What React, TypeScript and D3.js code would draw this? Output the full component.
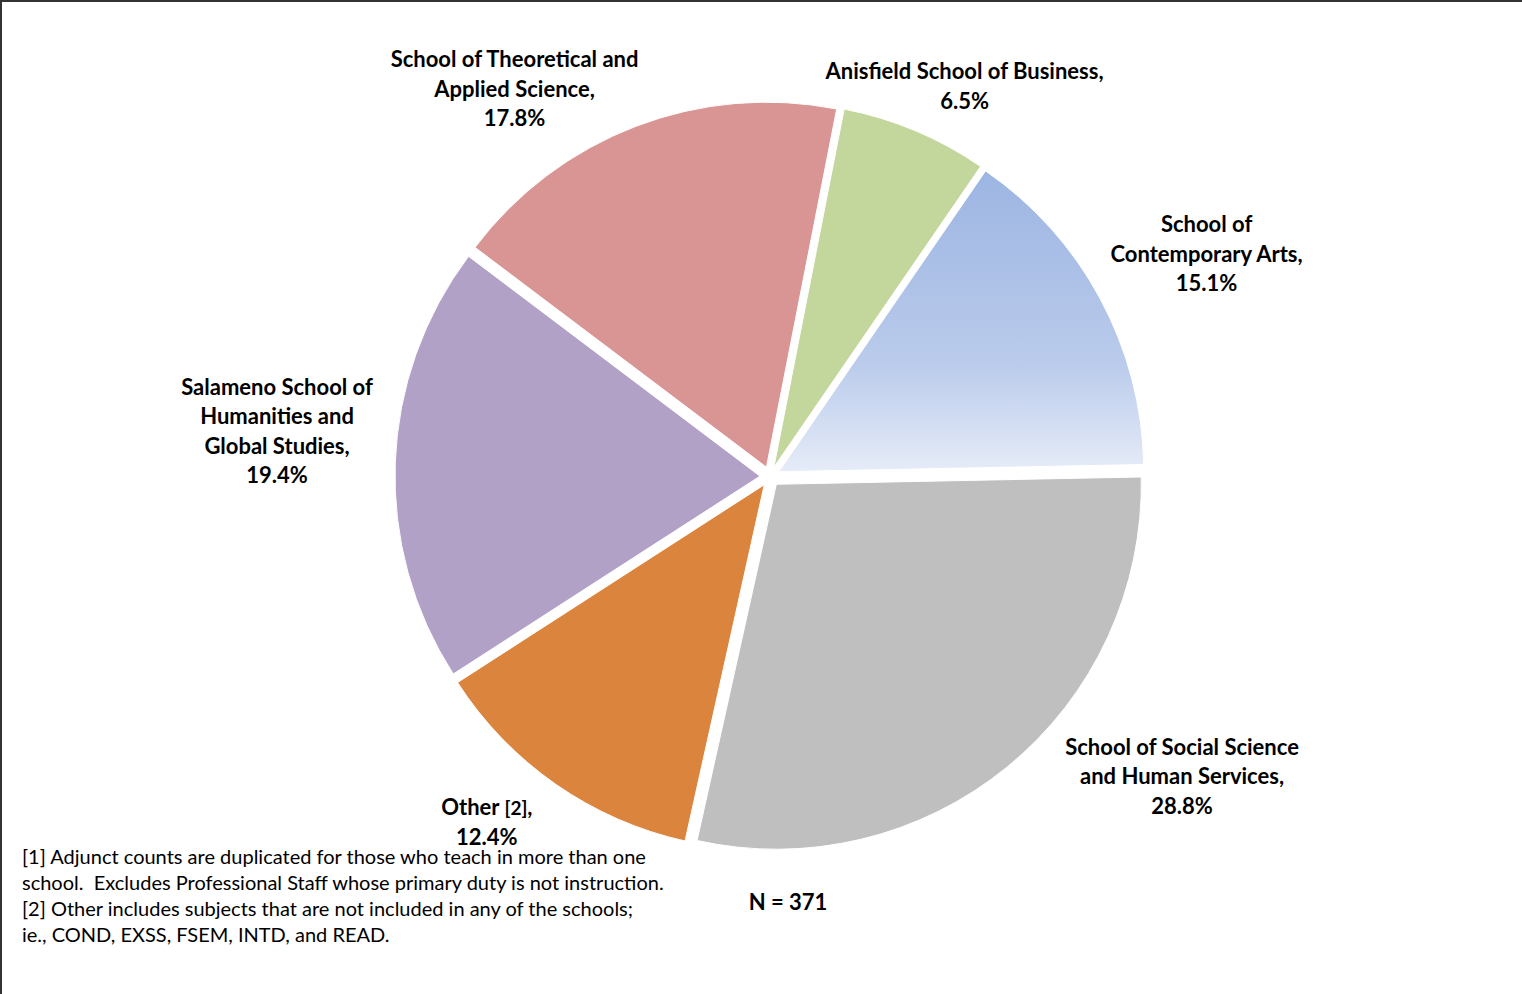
import React from 'react';
import * as d3 from 'd3';

const categories = [
  'Anisfield School of Business',
  'School of Contemporary Arts',
  'School of Social Science and Human Services',
  'Other [2]',
  'Salameno School of Humanities and Global Studies',
  'School of Theoretical and Applied Science',
];
const shares = [6.5, 15.1, 28.8, 12.4, 19.4, 17.8];
const colors = ['#c3d69b', 'url(#blueFade)', '#bfbfbf', '#db843d', '#b2a1c7', '#d99594'];

// wrapped label text (last line is the percentage)
const labelLines = [
  ['Anisfield School of Business,'],
  ['School of', 'Contemporary Arts,'],
  ['School of Social Science', 'and Human Services,'],
  ['Other [2],'],
  ['Salameno School of', 'Humanities and', 'Global Studies,'],
  ['School of Theoretical and', 'Applied Science,'],
];

const footnotes = [
  '[1] Adjunct counts are duplicated for those who teach in more than one',
  'school.  Excludes Professional Staff whose primary duty is not instruction.',
  '[2] Other includes subjects that are not included in any of the schools;',
  'ie., COND, EXSS, FSEM, INTD, and READ.',
];
const totalN = 371;

const W = 1522;
const H = 994;
const cx = 770;
const cy = 476.5;
const R = 365;
const explode = 10;
const rot = (11.1 * Math.PI) / 180;
// label anchors: [angle deg clockwise from 12 o'clock, distance from centre]
const labelAnchors: [number, number][] = [
  [26.5, 436],
  [63, 490],
  [126.1, 510],
  [219.3, 447],
  [275.2, 495],
  [326.6, 464],
];
const lineH = 29.5;
const FONT = 'Lato, "Open Sans", sans-serif';

export default function App() {
  const pie = d3
    .pie<number>()
    .sort(null)
    .value(d => d)
    .startAngle(rot)
    .endAngle(rot + 2 * Math.PI);
  const arcs = pie(shares);
  const arc = d3.arc<d3.PieArcDatum<number>>().innerRadius(0).outerRadius(R);

  return (
    <svg
      width={W}
      height={H}
      style={{ position: 'absolute', left: 0, top: 0, background: '#fff' }}
      fontFamily={FONT}
    >
      <defs>
        {/* coords are local to the pie group (origin at centre) */}
        <linearGradient id="blueFade" gradientUnits="userSpaceOnUse" x1={0} y1={-R * 0.85} x2={0} y2={0}>
          <stop offset="0%" stopColor="#9bb4e2" />
          <stop offset="65%" stopColor="#bacbeb" />
          <stop offset="100%" stopColor="#e6ecf8" />
        </linearGradient>
      </defs>
      <rect x={1} y={1} width={W + 10} height={H + 10} fill="none" stroke="#333" strokeWidth={2} />

      <g transform={`translate(${cx},${cy})`}>
        {arcs.map((a, i) => {
          const mid = (a.startAngle + a.endAngle) / 2;
          const ox = Math.sin(mid) * explode;
          const oy = -Math.cos(mid) * explode;
          return (
            <path
              key={categories[i]}
              d={arc(a) || ''}
              transform={`translate(${ox},${oy})`}
              fill={colors[i]}
              stroke="#fff"
              strokeWidth={1}
            />
          );
        })}
      </g>

      {arcs.map((a, i) => {
        const [deg, dist] = labelAnchors[i];
        const ang = (deg * Math.PI) / 180;
        const lx = cx + Math.sin(ang) * dist;
        const ly = cy - Math.cos(ang) * dist;
        const lines = [...labelLines[i], `${a.data.toFixed(1)}%`];
        const top = ly - ((lines.length - 1) * lineH) / 2;
        return (
          <text key={categories[i]} x={lx} textAnchor="middle" fontWeight="bold" fontSize={22} fill="#000">
            {lines.map((ln, j) => {
              const y = top + j * lineH + 7.5;
              if (ln.includes('[2]')) {
                const [pre, post] = ln.split('[2]');
                return (
                  <tspan key={j} x={lx} y={y}>
                    {pre}
                    <tspan fontSize={19}>[2]</tspan>
                    {post}
                  </tspan>
                );
              }
              return (
                <tspan key={j} x={lx} y={y}>
                  {ln}
                </tspan>
              );
            })}
          </text>
        );
      })}

      <text x={788} y={910} textAnchor="middle" fontWeight="bold" fontSize={22} fill="#000">
        N = {totalN}
      </text>

      <text fontSize={20} fill="#000" style={{ whiteSpace: 'pre' }}>
        {footnotes.map((f, i) => (
          <tspan key={i} x={22} y={864 + i * 26}>
            {f}
          </tspan>
        ))}
      </text>
    </svg>
  );
}
